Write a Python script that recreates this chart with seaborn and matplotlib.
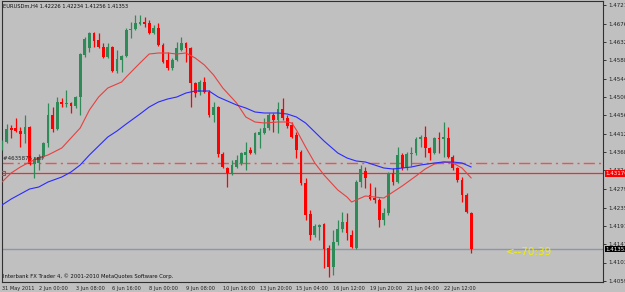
import numpy as np
import pandas as pd
import seaborn as sns
import matplotlib.pyplot as plt

# EURUSDm H4 candles
opens = [1.43778, 1.43922, 1.44258, 1.44258, 1.44186, 1.44114, 1.44282, 1.43394, 1.43418, 1.43562,
         1.43898, 1.44570, 1.44234, 1.44882, 1.44834, 1.44858, 1.44786, 1.45002, 1.46010, 1.46178,
         1.46538, 1.46370, 1.46202, 1.45962, 1.46202, 1.45626, 1.45890, 1.45986, 1.46610, 1.46634,
         1.46754, 1.46802, 1.46778, 1.46538, 1.46658, 1.46250, 1.45890, 1.45698, 1.45890, 1.46130,
         1.46298, 1.46178, 1.45338, 1.45122, 1.45362, 1.45122, 1.44570, 1.44762, 1.43634, 1.43298,
         1.43178, 1.43322, 1.43418, 1.43610, 1.43730, 1.43658, 1.44090, 1.44138, 1.44258, 1.44570,
         1.44450, 1.44714, 1.44498, 1.44330, 1.44090, 1.43682, 1.42938, 1.42194, 1.41690, 1.41882,
         1.41954, 1.41378, 1.40922, 1.41522, 1.41834, 1.42002, 1.41690, 1.41378, 1.42962, 1.43226,
         1.42650, 1.42578, 1.42530, 1.42050, 1.42218, 1.43178, 1.42962, 1.43610, 1.43298, 1.43634,
         1.43658, 1.43994, 1.44042, 1.43778, 1.43658, 1.44018, 1.43994, 1.44018, 1.43562, 1.43298,
         1.43010, 1.42650, 1.42226]
highs = [1.43970, 1.44354, 1.44330, 1.44498, 1.44282, 1.44570, 1.44306, 1.43562, 1.43634, 1.43922,
         1.44858, 1.44762, 1.45002, 1.44978, 1.45170, 1.44882, 1.45026, 1.46058, 1.46442, 1.46562,
         1.46562, 1.46538, 1.46298, 1.46298, 1.46226, 1.46130, 1.46010, 1.46658, 1.46802, 1.46970,
         1.46970, 1.46922, 1.46850, 1.46730, 1.46778, 1.46298, 1.46082, 1.45938, 1.46322, 1.46442,
         1.46322, 1.46202, 1.45362, 1.45410, 1.45482, 1.45170, 1.44882, 1.44786, 1.43682, 1.43322,
         1.43490, 1.43610, 1.43682, 1.43922, 1.43802, 1.44162, 1.44258, 1.44498, 1.44618, 1.44618,
         1.44882, 1.44978, 1.44570, 1.44402, 1.44162, 1.43730, 1.43058, 1.42290, 1.41954, 1.41954,
         1.41978, 1.41450, 1.41810, 1.42050, 1.42242, 1.42218, 1.41810, 1.43010, 1.43370, 1.43322,
         1.42938, 1.42842, 1.42578, 1.42338, 1.43202, 1.43298, 1.43802, 1.43658, 1.43682, 1.43802,
         1.44042, 1.44090, 1.44306, 1.43802, 1.44042, 1.44162, 1.44402, 1.44282, 1.43610, 1.43322,
         1.43082, 1.42698, 1.42234]
lows = [1.43730, 1.43898, 1.44018, 1.44162, 1.43802, 1.43898, 1.43370, 1.43058, 1.43250, 1.43538,
        1.43802, 1.44162, 1.44210, 1.44762, 1.44762, 1.44618, 1.44738, 1.44570, 1.45962, 1.46082,
        1.46202, 1.46178, 1.45938, 1.45938, 1.45602, 1.45578, 1.45602, 1.45962, 1.46418, 1.46610,
        1.46730, 1.46682, 1.46514, 1.46514, 1.46226, 1.45818, 1.45650, 1.45650, 1.45866, 1.46106,
        1.45842, 1.44762, 1.45002, 1.45050, 1.45098, 1.44522, 1.44402, 1.43562, 1.43298, 1.42842,
        1.43130, 1.43298, 1.43370, 1.43250, 1.43634, 1.43634, 1.43778, 1.44114, 1.44210, 1.44162,
        1.44138, 1.44450, 1.44258, 1.44018, 1.43538, 1.42890, 1.42050, 1.41570, 1.41642, 1.41570,
        1.40898, 1.40682, 1.40730, 1.41450, 1.41762, 1.41570, 1.41378, 1.41354, 1.42842, 1.42818,
        1.42530, 1.42458, 1.41882, 1.41930, 1.42170, 1.42890, 1.42938, 1.43250, 1.43250, 1.43346,
        1.43610, 1.43802, 1.43562, 1.43490, 1.43634, 1.43658, 1.43562, 1.43538, 1.43250, 1.42962,
        1.42482, 1.42218, 1.41256]
closes = [1.43922, 1.44234, 1.44210, 1.44186, 1.44114, 1.44282, 1.43394, 1.43514, 1.43562, 1.43898,
          1.44570, 1.44234, 1.44882, 1.44834, 1.44858, 1.44786, 1.45002, 1.46034, 1.46394, 1.46538,
          1.46346, 1.46202, 1.45962, 1.46202, 1.45626, 1.45914, 1.45986, 1.46610, 1.46634, 1.46778,
          1.46802, 1.46754, 1.46538, 1.46658, 1.46250, 1.45842, 1.45698, 1.45890, 1.46178, 1.46298,
          1.46178, 1.45338, 1.45098, 1.45362, 1.45122, 1.44570, 1.44762, 1.43634, 1.43322, 1.43178,
          1.43370, 1.43490, 1.43658, 1.43682, 1.43658, 1.44138, 1.44162, 1.44258, 1.44570, 1.44450,
          1.44714, 1.44498, 1.44306, 1.44042, 1.43730, 1.42938, 1.42170, 1.41690, 1.41906, 1.41930,
          1.41354, 1.40922, 1.41522, 1.41834, 1.42002, 1.41738, 1.41402, 1.42962, 1.43274, 1.43058,
          1.42554, 1.42530, 1.42050, 1.42218, 1.43178, 1.42962, 1.43610, 1.43298, 1.43634, 1.43658,
          1.43994, 1.44042, 1.43778, 1.43658, 1.44018, 1.43994, 1.44042, 1.43562, 1.43298, 1.43010,
          1.42650, 1.42242, 1.41353]

# moving averages (read at sample bars)
red_ma_bar = [0, 2, 4, 6, 8, 10, 13, 15, 17, 19, 21, 23, 26, 27, 30, 32, 34, 36, 38, 40,
              42, 44, 46, 48, 51, 53, 55, 57, 60, 62, 63, 64, 66, 68, 70, 73, 75, 76, 79, 81,
              83, 85, 87, 90, 92, 94, 96, 98, 100, 102]
red_ma = [1.42962, 1.43178, 1.43322, 1.43442, 1.43538, 1.43610, 1.43778, 1.44018, 1.44258, 1.44690,
          1.45002, 1.45218, 1.45362, 1.45482, 1.45818, 1.46034, 1.46058, 1.46058, 1.46034, 1.46058,
          1.45938, 1.45770, 1.45530, 1.45218, 1.44858, 1.44522, 1.44402, 1.44378, 1.44402, 1.44402,
          1.44378, 1.44210, 1.43802, 1.43418, 1.43130, 1.42770, 1.42602, 1.42482, 1.42626, 1.42602,
          1.42578, 1.42722, 1.42866, 1.43106, 1.43274, 1.43394, 1.43442, 1.43418, 1.43298, 1.43058]
blue_ma_bar = [0, 2, 4, 6, 8, 10, 13, 15, 17, 19, 21, 23, 25, 27, 30, 32, 34, 36, 38, 40,
               42, 44, 45, 47, 49, 51, 53, 55, 57, 60, 62, 64, 66, 68, 70, 73, 75, 77, 79, 81,
               83, 85, 87, 89, 91, 94, 96, 98, 100, 102]
blue_ma = [1.42410, 1.42554, 1.42674, 1.42794, 1.42842, 1.42962, 1.43082, 1.43202, 1.43370, 1.43610,
           1.43826, 1.44042, 1.44186, 1.44354, 1.44594, 1.44762, 1.44882, 1.44954, 1.45002, 1.45098,
           1.45146, 1.45146, 1.45146, 1.45002, 1.44906, 1.44810, 1.44738, 1.44642, 1.44618, 1.44618,
           1.44594, 1.44522, 1.44378, 1.44162, 1.43946, 1.43658, 1.43538, 1.43466, 1.43442, 1.43370,
           1.43298, 1.43274, 1.43298, 1.43322, 1.43370, 1.43418, 1.43442, 1.43442, 1.43418, 1.43322]

price_ticks = [1.47210, 1.46760, 1.46320, 1.45880, 1.45440, 1.45000, 1.44560, 1.44120,
               1.43680, 1.43240, 1.42790, 1.42350, 1.41910, 1.41470, 1.41030, 1.40590]
time_bars = [0, 8, 16, 24, 32, 40, 48, 56, 64, 72, 80, 88, 96]
time_labels = ['31 May 2011', '2 Jun 00:00', '3 Jun 08:00', '6 Jun 16:00', '8 Jun 00:00',
               '9 Jun 08:00', '10 Jun 16:00', '13 Jun 20:00', '15 Jun 04:00', '16 Jun 12:00',
               '19 Jun 20:00', '21 Jun 04:00', '22 Jun 12:00']

order_price = 1.43425
sl_price = 1.43170
bid_price = 1.41353

bg = '#c0c0c0'
sns.set_style('white', {'axes.facecolor': bg, 'figure.facecolor': bg,
                        'axes.edgecolor': '#303030'})
plt.rcParams['font.family'] = ['Liberation Sans Narrow', 'DejaVu Sans']

df = pd.DataFrame({'open': opens, 'high': highs, 'low': lows, 'close': closes})
df['bar'] = np.arange(len(df))
df['up'] = df['close'] >= df['open']

fig = plt.figure(figsize=(6.25, 2.92), dpi=100)
ax = fig.add_axes([2 / 625, 10 / 292, 601 / 625, 281 / 292])
ax.set_xlim(0, 601 / 4.6)
ax.set_ylim(1.40562, 1.47306)

green = '#2e8b57'
red = '#ff0000'
cols = np.where(df['up'], green, red)

# wicks and bodies
ax.vlines(df['bar'], df['low'], df['high'], colors=cols, lw=0.9, zorder=3)
body_lo = np.minimum(df['open'], df['close'])
body_h = np.maximum(np.abs(df['close'] - df['open']), 0.00024)
ax.bar(df['bar'], body_h, bottom=body_lo, width=0.65, color=cols, lw=0, zorder=4)

# moving averages
sns.lineplot(x=red_ma_bar, y=red_ma, ax=ax, color='#e84040', lw=0.8, zorder=5)
sns.lineplot(x=blue_ma_bar, y=blue_ma, ax=ax, color='#2a2aff', lw=0.8, zorder=5)

# order / stop / bid lines
ax.axhline(order_price, color='#f05050', lw=1.0, dashes=(8, 3, 1.5, 3), zorder=2)
ax.axhline(sl_price, color='#e83030', lw=0.9, zorder=2)
ax.axhline(bid_price, color='#8c96a8', lw=1.0, zorder=2)
ax.plot([0.25], [sl_price], marker='s', ms=2.5, mfc='none', mec='#e83030', mew=0.8, zorder=6)
ax.text(0.2, order_price + 0.0003, '#4635875 sell', fontsize=4, color='#202020',
        va='bottom', ha='left', zorder=6)

# axes ticks
ax.yaxis.tick_right()
ax.set_yticks(price_ticks)
ax.set_yticklabels(['%.5f' % p for p in price_ticks])
ax.tick_params(axis='y', length=2.5, width=0.6, pad=1, labelsize=4, colors='#202020')
ax.set_xticks(time_bars)
ax.set_xticklabels(time_labels)
ax.tick_params(axis='x', length=2.5, width=0.6, pad=0.5, labelsize=3.6, colors='#202020')
for lab in ax.get_xticklabels():
    lab.set_ha('left')
for sp in ax.spines.values():
    sp.set_linewidth(0.8)

# price labels on the right axis
ytr = ax.get_yaxis_transform()
ax.text(1.004, sl_price, '1.43170', transform=ytr, fontsize=4, color='white', va='center',
        ha='left', bbox=dict(boxstyle='square,pad=0.15', fc='#ff0000', ec='none'), clip_on=False)
ax.text(1.004, bid_price, '1.41353', transform=ytr, fontsize=4, color='white', va='center',
        ha='left', bbox=dict(boxstyle='square,pad=0.15', fc='#000000', ec='none'), clip_on=False)

# texts
fig.text(3 / 625, 1 - 6 / 292, 'EURUSDm,H4 1.42226 1.42234 1.41256 1.41353',
         fontsize=3.7, color='#101010', va='center', ha='left')
fig.text(3 / 625, 1 - 276 / 292, 'Interbank FX Trader 4, \u00a9 2001-2010 MetaQuotes Software Corp.',
         fontsize=3.8, color='#101010', va='center', ha='left')
ax.text(504 / 4.6, bid_price - 0.0008, '<--70:39', fontsize=7.5,
        color='#f0f000', va='center', ha='left', zorder=6)

ax.set_xlabel('')
ax.set_ylabel('')
fig.savefig('out.png', dpi=100, facecolor=bg)
